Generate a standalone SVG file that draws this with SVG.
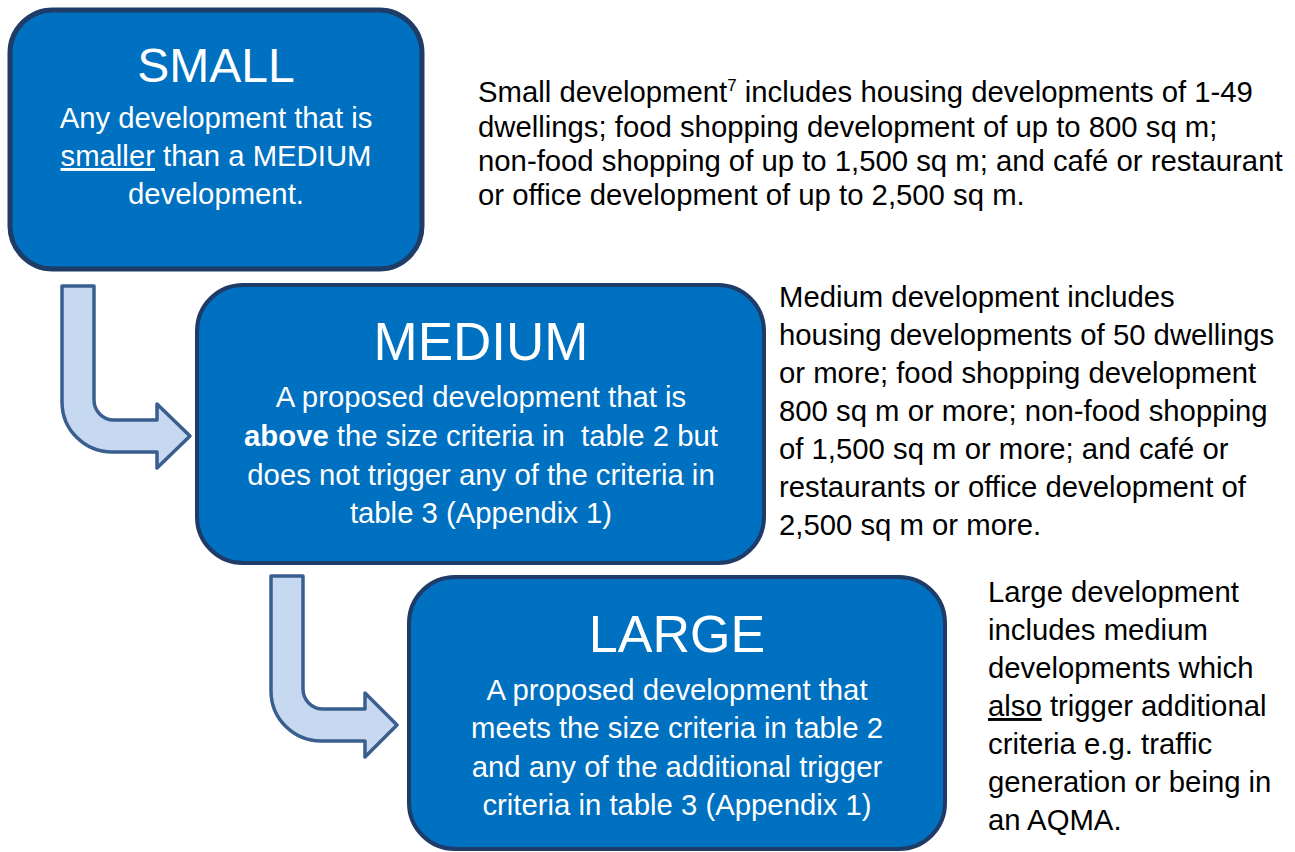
<svg xmlns="http://www.w3.org/2000/svg" width="1295" height="852" viewBox="0 0 1295 852">
<style>
.box{fill:#0070C0;stroke:#1F3C68;stroke-width:4}
.arrow{fill:#C6D9F1;stroke:#3A5F8E;stroke-width:3.5;stroke-linejoin:round}
.title{font-family:"Liberation Sans",Arial,sans-serif;fill:#fff;text-anchor:middle}
.sub{font-family:"Liberation Sans",Arial,sans-serif;fill:#fff;font-size:29.3px;text-anchor:middle}
.desc{font-family:"Liberation Sans",Arial,sans-serif;fill:#000;font-size:29.3px}
</style>
<rect width="1295" height="852" fill="#fff"/>
<g id="connectors">
<path class="arrow" d="M62,286 H94 V400 A20,20 0 0 0 114,420 H157 V404 L190,436 L157,468 V452 H112 A50,50 0 0 1 62,402 Z"/>
<path class="arrow" d="M271,576 H303 V689 A20,20 0 0 0 323,709 H365 V693 L397,725 L365,757 V741 H321 A50,50 0 0 1 271,691 Z"/>
</g>
<g id="small">
<rect class="box" x="10" y="10" width="412" height="259" rx="43" style="stroke-width:5"/>
<text class="title" x="216" y="82" font-size="48">SMALL</text>
<text class="sub" x="216" y="128">Any development that is</text>
<text class="sub" x="216" y="166"><tspan text-decoration="underline">smaller</tspan> than a MEDIUM</text>
<text class="sub" x="216" y="204">development.</text>
</g>
<g id="medium">
<rect class="box" x="197" y="285" width="567" height="278" rx="46"/>
<text class="title" x="481" y="360" font-size="53">MEDIUM</text>
<text class="sub" x="481" y="407">A proposed development that is</text>
<text class="sub" x="481" y="446" style="white-space:pre"><tspan font-weight="bold">above</tspan> the size criteria in  table 2 but</text>
<text class="sub" x="481" y="485">does not trigger any of the criteria in</text>
<text class="sub" x="481" y="523">table 3 (Appendix 1)</text>
</g>
<g id="large">
<rect class="box" x="409" y="577" width="536" height="272" rx="46"/>
<text class="title" x="677" y="652" font-size="52">LARGE</text>
<text class="sub" x="677" y="700">A proposed development that</text>
<text class="sub" x="677" y="738">meets the size criteria in table 2</text>
<text class="sub" x="677" y="777">and any of the additional trigger</text>
<text class="sub" x="677" y="815">criteria in table 3 (Appendix 1)</text>
</g>
<g id="small-desc">
<text class="desc" x="478" y="102">Small development<tspan font-size="17" dy="-11">7</tspan><tspan dy="11"> includes housing developments of 1-49</tspan></text>
<text class="desc" x="478" y="137">dwellings; food shopping development of up to 800 sq m;</text>
<text class="desc" x="478" y="171">non-food shopping of up to 1,500 sq m; and café or restaurant</text>
<text class="desc" x="478" y="205">or office development of up to 2,500 sq m.</text>
</g>
<g id="medium-desc">
<text class="desc" x="779" y="307">Medium development includes</text>
<text class="desc" x="779" y="345">housing developments of 50 dwellings</text>
<text class="desc" x="779" y="383">or more; food shopping development</text>
<text class="desc" x="779" y="421">800 sq m or more; non-food shopping</text>
<text class="desc" x="779" y="459">of 1,500 sq m or more; and café or</text>
<text class="desc" x="779" y="497">restaurants or office development of</text>
<text class="desc" x="779" y="535">2,500 sq m or more.</text>
</g>
<g id="large-desc">
<text class="desc" x="988" y="602">Large development</text>
<text class="desc" x="988" y="640">includes medium</text>
<text class="desc" x="988" y="678">developments which</text>
<text class="desc" x="988" y="716"><tspan text-decoration="underline">also</tspan> trigger additional</text>
<text class="desc" x="988" y="754">criteria e.g. traffic</text>
<text class="desc" x="988" y="792">generation or being in</text>
<text class="desc" x="988" y="830">an AQMA.</text>
</g>
</svg>
